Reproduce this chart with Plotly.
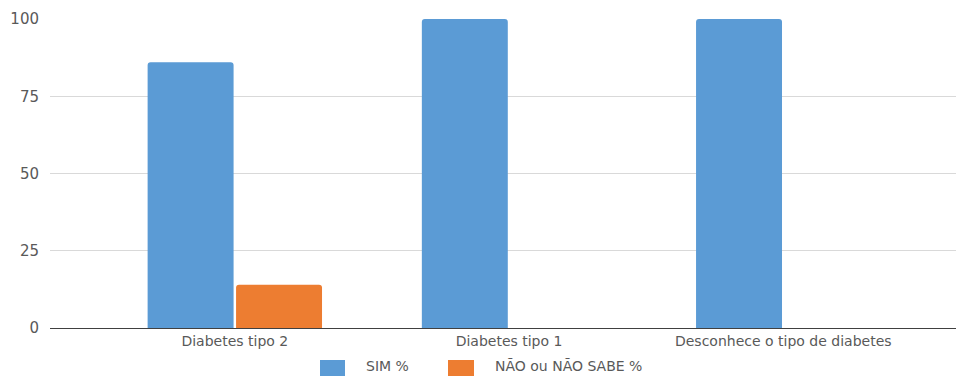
import plotly.graph_objects as go

categorias = ["Diabetes tipo 2", "Diabetes tipo 1", "Desconhece o tipo de diabetes"]
sim_pct = [86, 100, 100]
nao_pct = [14, 0, 0]
y_ticks = [0, 25, 50, 75, 100]
series_nomes = ["SIM %", "NÃO ou NÃO SABE %"]

AZUL = "#5B9BD5"
LARANJA = "#ED7D31"
TEXTO = "#595959"
FONTE = "DejaVu Sans"

W, H = 957, 376
M_L, M_R, M_T, M_B = 50, 1, 19, 48
PW, PH = W - M_L - M_R, H - M_T - M_B


def px_x(p):
    return (p - M_L) / PW


def px_y(p):
    return (H - M_B - p) / PH


fig = go.Figure()
fig.add_trace(go.Bar(x=categorias, y=sim_pct, name=series_nomes[0],
                     marker_color=AZUL, marker_line_width=0, showlegend=False))
fig.add_trace(go.Bar(x=categorias, y=nao_pct, name=series_nomes[1],
                     marker_color=LARANJA, marker_line_width=0, showlegend=False))

# legend drawn as wide colour boxes with labels beneath the axis
legenda = [(320, 345, 365, AZUL, series_nomes[0]),
           (448, 474, 494, LARANJA, series_nomes[1])]
shapes, annotations = [], []
for x0, x1, xt, cor, nome in legenda:
    shapes.append(dict(type="rect", xref="paper", yref="paper",
                       x0=px_x(x0), x1=px_x(x1), y0=px_y(376), y1=px_y(360),
                       fillcolor=cor, line_width=0, layer="above"))
    annotations.append(dict(xref="paper", yref="paper", x=px_x(xt), y=px_y(366),
                            xanchor="left", yanchor="middle", text=nome,
                            showarrow=False, borderpad=0,
                            font=dict(size=14, color=TEXTO)))

fig.update_layout(
    width=W, height=H,
    margin=dict(l=M_L, r=M_R, t=M_T, b=M_B, autoexpand=False),
    paper_bgcolor="white", plot_bgcolor="white",
    barmode="group", bargap=0.355, bargroupgap=0.028,
    barcornerradius=3,
    font=dict(family=FONTE, size=15, color=TEXTO),
    showlegend=False,
    shapes=shapes, annotations=annotations,
    xaxis=dict(type="category", range=[-0.674, 2.63], showgrid=False,
               showline=True, linecolor="#404040", linewidth=1, automargin=False,
               ticks="", tickfont=dict(size=14, color=TEXTO)),
    yaxis=dict(range=[0, 100], tickvals=y_ticks, showgrid=True,
               gridcolor="#D9D9D9", gridwidth=1, zeroline=False, automargin=False,
               showline=False, ticks="", ticklabelstandoff=10,
               tickfont=dict(size=15, color=TEXTO)),
)

fig.write_html("out.html")
